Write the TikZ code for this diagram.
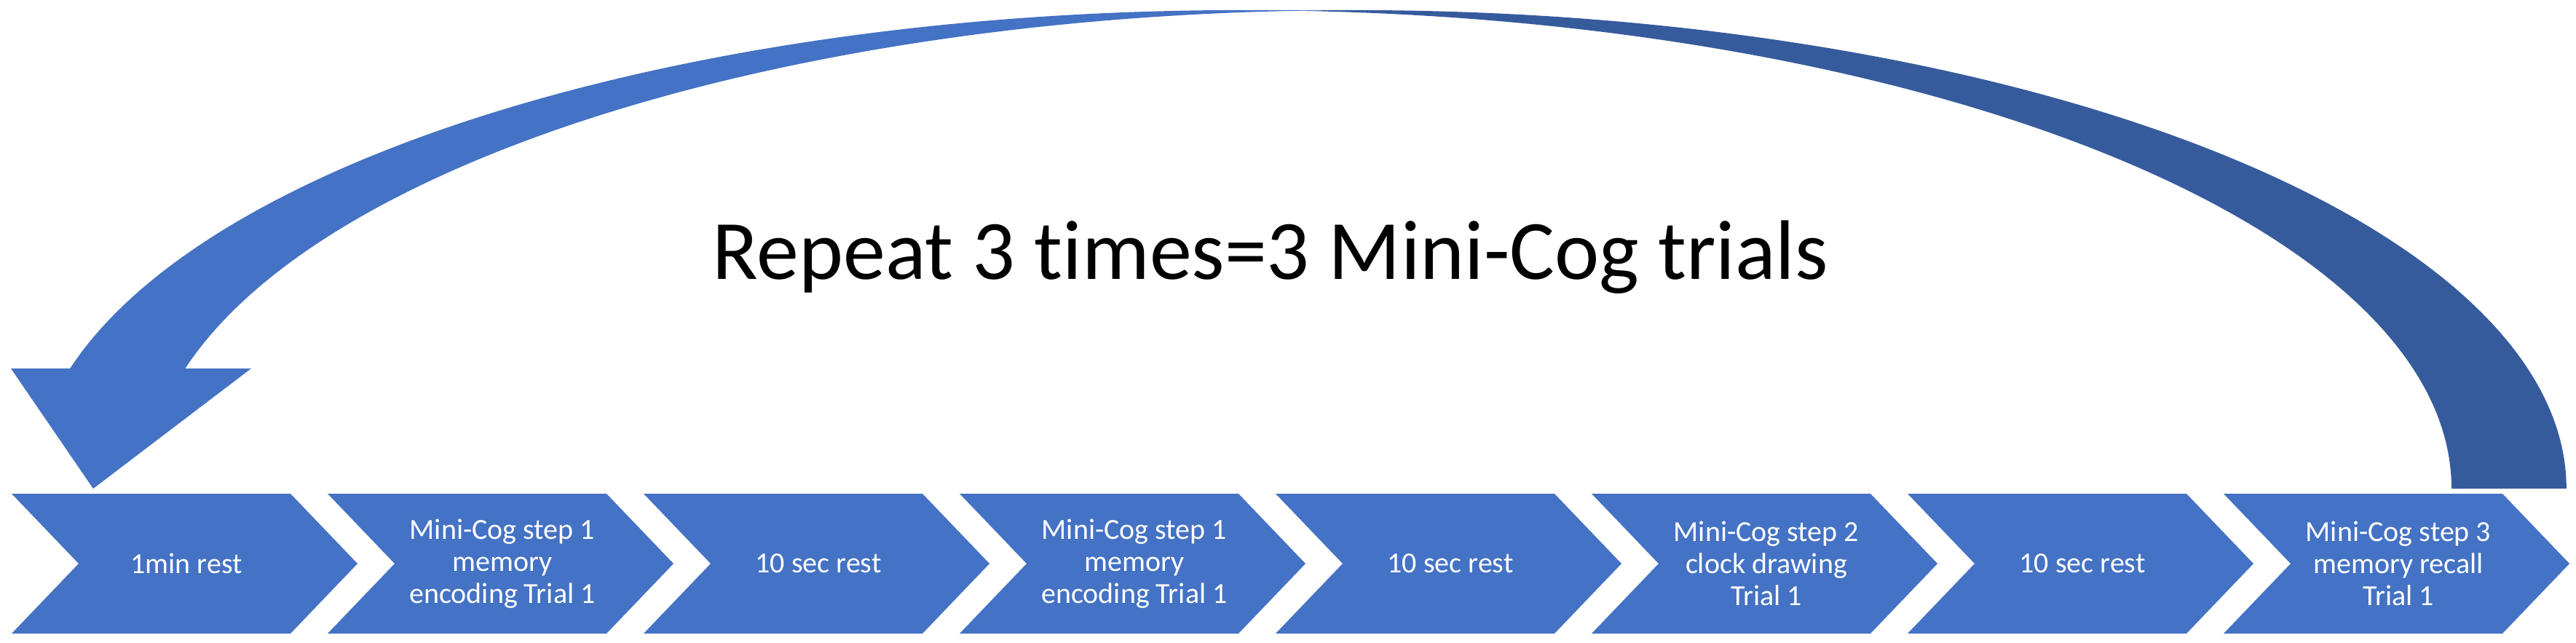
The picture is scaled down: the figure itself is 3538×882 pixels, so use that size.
\documentclass[tikz,border=0pt]{standalone}
\usepackage{fontspec}
\setmainfont{Carlito}[Ligatures=NoCommon]
\definecolor{blueA}{RGB}{68,114,196}
\definecolor{blueB}{RGB}{54,91,157}
\begin{document}
\begin{tikzpicture}[x=0.25pt,y=0.25pt,
  chevbox/.style={fill=blueA},
  chevtext/.style={text=white, align=center, font=\fontsize{10}{11}\selectfont, inner sep=0pt},
  titletext/.style={text=black, font=\fontsize{29}{35}\selectfont, inner sep=0pt, anchor=base},
  ell/.style={x radius=1662, y radius=657}]
\useasboundingbox (0,0) rectangle (3538,882);
% curved arrow: light band with head
\fill[blueA] (128,211) -- (15,376) -- (96.2,376)
  arc[start angle=165.46, end angle=90, ell] -- (1863,868)
  arc[start angle=90, end angle=165.46, ell] -- (345,376) -- cycle;
% dark back band (tail)
\fill[blueB] (1784,867.3) arc[start angle=92.72, end angle=0, ell]
  -- (3367,211) arc[start angle=0, end angle=87.28, ell] -- cycle;
% chevrons
\foreach \i in {0,...,7}{
  \pgfmathsetmacro\xo{16+434*\i}
  \fill[chevbox] (\xo,204) -- ++(383,0) -- ++(92,-96) -- ++(-92,-96) -- ++(-383,0) -- ++(92,96) -- cycle;
}
\node[chevtext] (s1) at (256,108) {1min rest};
\node[chevtext] (s2) at (690,108) {Mini-Cog step 1\\memory\\encoding Trial 1};
\node[chevtext] (s3) at (1124,108) {10 sec rest};
\node[chevtext] (s4) at (1558,108) {Mini-Cog step 1\\memory\\encoding Trial 1};
\node[chevtext] (s5) at (1992,108) {10 sec rest};
\node[chevtext] (s6) at (2426,108) {Mini-Cog step 2\\clock drawing\\Trial 1};
\node[chevtext] (s7) at (2860,108) {10 sec rest};
\node[chevtext] (s8) at (3294,108) {Mini-Cog step 3\\memory recall\\Trial 1};
\node[titletext] (title) at (1745,499) {Repeat 3 times=3 Mini-Cog trials};
\end{tikzpicture}
\end{document}
